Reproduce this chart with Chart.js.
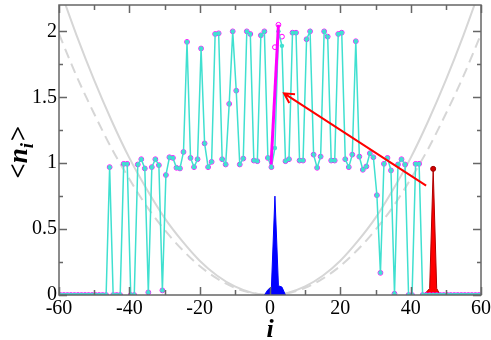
<!DOCTYPE html>
<html>
<head>
<meta charset="utf-8">
<script src="https://cdn.jsdelivr.net/npm/chart.js@4"></script>
<style>
  html, body { margin: 0; padding: 0; background: #fff; }
</style>
</head>
<body>
<canvas id="densityChart" width="491" height="340"></canvas>
<script>
// lattice sites i = -60 .. 59 (points sit a bit right of the integer in the original)
const SITES = [];
for (let i = -60; i <= 59; i++) SITES.push(i);
const SITE_SHIFT = 0.4;

// <n_i> for every site (turquoise)
const DENSITY = [
  0, 0, 0, 0, 0, 0, 0, 0, 0, 0, 0, 0, 0, 0,
  0.97, 0, 0, 0, 0.995, 0.995, 0, 0, 0.99, 1.03,
  0.96, 0.02, 0.97, 1.03, 0.985, 0.035, 0.91, 1.045, 1.04, 0.965,
  0.96, 1.085, 1.92, 1.04, 0.97, 1.03, 1.87, 1.15, 0.97, 1.01,
  1.98, 1.985, 1.03, 0.99, 1.45, 2.0, 1.55, 0.99, 1.035, 2.0,
  1.98, 1.02, 1.015, 1.97, 2.0, 1.04, 0.97, 1.115, 2.0, 1.89,
  1.015, 1.03, 1.99, 1.99, 1.02, 1.02, 1.94, 2.0, 1.065, 0.965,
  1.05, 2.0, 1.96, 1.02, 1.02, 1.98, 1.99, 1.03, 0.97, 1.065,
  1.925, 1.05, 0.95, 0.975, 1.075, 1.045, 0.757, 0.168, 0.995, 1.04,
  0.945, 0.01, 0.99, 1.03, 0.99, 0, 0, 0.995, 0.995, 0,
  0, 0, 0, 0, 0, 0, 0, 0, 0, 0, 0, 0, 0, 0, 0, 0
];
// magenta circles: same profile, except these sites
const MAGENTA_SITES = { 1: 1.88, 2: 2.05, 3: 1.96 };

// thick magenta segment near the centre
const JUMP_X = [0.3, 2.4];
const JUMP_Y = [0.99, 2.05];

// blue wave packet (centre) and red wave packet (right edge)
const BLUE_X = [-1.6, -0.6, 0.4, 1.4, 2.4, 3.4, 4.4];
const BLUE_Y = [0, 0.04, 0.06, 0.75, 0.07, 0.06, 0];
const RED_X = [43.4, 44.4, 45.4, 46.4, 47.4, 48.4];
const RED_Y = [0, 0.02, 0.05, 0.957, 0.05, 0];

// grey trap curves, sampled every 5 sites
const TRAP_X = [-60, -55, -50, -45, -40, -35, -30, -25, -20, -15, -10, -5, 0, 5, 10, 15, 20, 25, 30, 35, 40, 45, 50, 55, 60];
const TRAP_SOLID = [2.34, 1.97, 1.63, 1.32, 1.04, 0.8, 0.585, 0.41, 0.26, 0.146, 0.065, 0.016, 0, 0.016, 0.065, 0.146, 0.26, 0.41, 0.585, 0.8, 1.04, 1.32, 1.63, 1.97, 2.34];
const TRAP_DASHED = [1.98, 1.66, 1.375, 1.11, 0.88, 0.67, 0.495, 0.345, 0.22, 0.124, 0.055, 0.014, 0, 0.014, 0.055, 0.124, 0.22, 0.345, 0.495, 0.67, 0.88, 1.11, 1.375, 1.66, 1.98];

// arrow from the red packet towards the centre
const ARROW_FROM = [44.4, 0.83];
const ARROW_TO = [4.0, 1.53];

// axes
const X_TICKS = [-60, -40, -20, 0, 20, 40, 60];
const X_MINOR = [-50, -30, -10, 10, 30, 50];
const Y_TICKS = [0, 0.5, 1, 1.5, 2];
const Y_MINOR = [0.25, 0.75, 1.25, 1.75];

const SERIF = "'Liberation Serif', 'Times New Roman', Times, serif";
Chart.defaults.font.family = SERIF;

const toPoints = (xs, ys) => xs.map((x, j) => ({ x: x, y: ys[j] }));
const sitePoints = ys => SITES.map((s, j) => ({ x: s + SITE_SHIFT, y: ys[j] }));
const magentaValues = DENSITY.map((v, j) => (SITES[j] in MAGENTA_SITES ? MAGENTA_SITES[SITES[j]] : v));

// frame with inward ticks on all four sides
const frameTicks = {
  id: 'frameTicks',
  afterDatasetsDraw(chart) {
    const { ctx, chartArea: a, scales: { x, y } } = chart;
    ctx.save();
    ctx.strokeStyle = '#666';
    ctx.lineWidth = 1.5;
    ctx.strokeRect(a.left, a.top, a.right - a.left, a.bottom - a.top);
    ctx.beginPath();
    const xt = (v, len) => {
      const px = Math.round(x.getPixelForValue(v)) + 0.5;
      ctx.moveTo(px, a.bottom); ctx.lineTo(px, a.bottom - len);
      ctx.moveTo(px, a.top); ctx.lineTo(px, a.top + len);
    };
    const yt = (v, len) => {
      const py = Math.round(y.getPixelForValue(v)) + 0.5;
      ctx.moveTo(a.left, py); ctx.lineTo(a.left + len, py);
      ctx.moveTo(a.right, py); ctx.lineTo(a.right - len, py);
    };
    X_TICKS.forEach(v => xt(v, 8));
    X_MINOR.forEach(v => xt(v, 5));
    Y_TICKS.forEach(v => yt(v, 8));
    Y_MINOR.forEach(v => yt(v, 4));
    ctx.stroke();
    ctx.restore();
  }
};

// red arrow with an open head
const arrow = {
  id: 'arrow',
  afterDatasetsDraw(chart) {
    const { ctx, scales: { x, y } } = chart;
    const x0 = x.getPixelForValue(ARROW_FROM[0]), y0 = y.getPixelForValue(ARROW_FROM[1]);
    const x1 = x.getPixelForValue(ARROW_TO[0]), y1 = y.getPixelForValue(ARROW_TO[1]);
    const ang = Math.atan2(y1 - y0, x1 - x0);
    const head = 11, spread = 0.5;
    ctx.save();
    ctx.strokeStyle = '#ff0000';
    ctx.lineWidth = 2;
    ctx.beginPath();
    ctx.moveTo(x0, y0);
    ctx.lineTo(x1, y1);
    ctx.moveTo(x1 - head * Math.cos(ang - spread), y1 - head * Math.sin(ang - spread));
    ctx.lineTo(x1, y1);
    ctx.lineTo(x1 - head * Math.cos(ang + spread), y1 - head * Math.sin(ang + spread));
    ctx.stroke();
    ctx.restore();
  }
};

// axis titles: i and <n_i>
const axisTitles = {
  id: 'axisTitles',
  afterDraw(chart) {
    const { ctx, chartArea: a, scales: { x } } = chart;
    ctx.save();
    ctx.fillStyle = '#000';
    ctx.font = 'bold italic 26px ' + SERIF;
    ctx.textAlign = 'center';
    ctx.textBaseline = 'alphabetic';
    ctx.fillText('i', x.getPixelForValue(0), 337);

    const big = 'bold italic 27px ' + SERIF;
    const small = 'bold italic 19px ' + SERIF;
    ctx.font = big;
    const w1 = ctx.measureText('<n').width;
    const w3 = ctx.measureText('>').width;
    ctx.font = small;
    const w2 = ctx.measureText('i').width;
    const total = w1 + w2 + w3;
    const cy = (a.top + a.bottom) / 2 + 3;
    ctx.translate(27, cy + total / 2);
    ctx.rotate(-Math.PI / 2);
    ctx.textAlign = 'left';
    ctx.font = big;
    ctx.fillText('<n', 0, 0);
    ctx.font = small;
    ctx.fillText('i', w1, 6);
    ctx.font = big;
    ctx.fillText('>', w1 + w2 + 1, 0);
    ctx.restore();
  }
};

new Chart(document.getElementById('densityChart'), {
  type: 'scatter',
  data: {
    datasets: [
      {
        label: 'trap',
        data: toPoints(TRAP_X, TRAP_SOLID),
        showLine: true,
        borderColor: '#d6d6d6',
        borderWidth: 2,
        pointRadius: 0,
        cubicInterpolationMode: 'monotone',
        order: 10
      },
      {
        label: 'trap (dashed)',
        data: toPoints(TRAP_X, TRAP_DASHED),
        showLine: true,
        borderColor: '#d6d6d6',
        borderWidth: 2,
        borderDash: [10, 6],
        pointRadius: 0,
        cubicInterpolationMode: 'monotone',
        order: 9
      },
      {
        label: 'blue packet',
        data: toPoints(BLUE_X, BLUE_Y),
        showLine: true,
        borderColor: '#0000ff',
        backgroundColor: '#0000ff',
        borderWidth: 1,
        fill: 'origin',
        pointRadius: 0,
        order: 8
      },
      {
        label: 'red packet',
        data: toPoints(RED_X, RED_Y),
        showLine: true,
        borderColor: '#b00000',
        backgroundColor: '#ff0000',
        borderWidth: 1,
        fill: 'origin',
        pointRadius: c => (c.dataIndex === 3 ? 2.5 : 0),
        pointBackgroundColor: '#d00000',
        pointBorderColor: '#a00000',
        order: 7
      },
      {
        label: 'magenta',
        data: sitePoints(magentaValues),
        showLine: false,
        pointRadius: 2.4,
        pointBorderWidth: 1,
        pointBorderColor: '#ff00ff',
        pointBackgroundColor: 'rgba(255,0,255,0)',
        order: 6
      },
      {
        label: 'density',
        data: sitePoints(DENSITY),
        showLine: true,
        borderColor: '#40e0d0',
        borderWidth: 1.5,
        pointRadius: 2.2,
        pointBorderWidth: 0,
        pointBackgroundColor: '#40e0d0',
        order: 5
      },
      {
        label: 'jump',
        data: toPoints(JUMP_X, JUMP_Y),
        showLine: true,
        borderColor: '#ff00ff',
        borderWidth: 3,
        pointRadius: 0,
        order: 4
      }
    ]
  },
  options: {
    responsive: false,
    animation: false,
    layout: { padding: { top: 2, right: 10, left: 0, bottom: 0 } },
    plugins: {
      legend: { display: false },
      tooltip: { enabled: false }
    },
    scales: {
      x: {
        type: 'linear',
        min: -60,
        max: 60,
        grid: { display: false, drawTicks: false },
        border: { display: false },
        afterBuildTicks: s => { s.ticks = X_TICKS.map(v => ({ value: v })); },
        afterFit: s => { s.height = 45; s.paddingLeft = 0; s.paddingRight = 0; },
        ticks: {
          color: '#000',
          padding: 4,
          maxRotation: 0,
          callback: v => String(v),
          font: { family: SERIF, size: 20, lineHeight: 1 }
        }
      },
      y: {
        type: 'linear',
        min: 0,
        max: 2.2,
        grid: { display: false, drawTicks: false },
        border: { display: false },
        afterBuildTicks: s => { s.ticks = Y_TICKS.map(v => ({ value: v })); },
        afterFit: s => { s.width = 59; s.paddingTop = 0; s.paddingBottom = 0; },
        ticks: {
          color: '#000',
          padding: 2,
          callback: v => String(v),
          font: { family: SERIF, size: 20, lineHeight: 1 }
        }
      }
    }
  },
  plugins: [frameTicks, arrow, axisTitles]
});
</script>
</body>
</html>
